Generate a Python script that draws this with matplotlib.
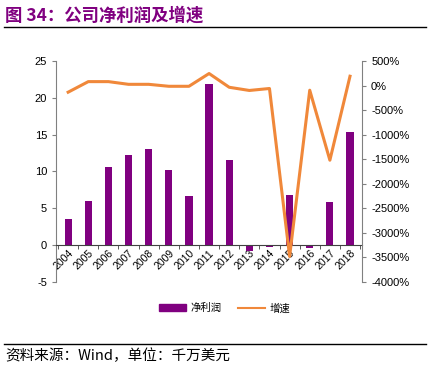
import numpy as np
import matplotlib.pyplot as plt
from matplotlib.lines import Line2D
from matplotlib.patches import Patch

plt.rcParams['font.family'] = ['Liberation Sans', 'Noto Sans CJK SC', 'DejaVu Sans']
plt.rcParams['axes.unicode_minus'] = False

# 数据
years = ['2004', '2005', '2006', '2007', '2008', '2009', '2010', '2011',
         '2012', '2013', '2014', '2015', '2016', '2017', '2018']
profit = [3.5, 6.0, 10.6, 12.2, 13.0, 10.2, 6.7, 21.9,
          11.6, -0.8, -0.2, 6.8, -0.4, 5.8, 15.3]
growth = [-135, 80, 80, 25, 25, -15, -15, 245,
          -35, -100, -60, -3480, -95, -1520, 190]

purple = '#800080'
orange = '#F0883A'
cjk = ['Noto Sans CJK SC', 'DejaVu Sans']

fig = plt.figure(figsize=(4.28, 3.67), dpi=100)
ax = fig.add_axes([0.131, 0.2316, 0.715, 0.6022])
x = np.arange(len(years))

ax.bar(x, profit, width=0.36, color=purple, zorder=2)
ax.set_ylim(-5, 25)
ax.set_yticks(np.arange(-5, 26, 5))
ax.set_xlim(-0.6, len(years) - 0.4)

for s in ['top', 'right']:
    ax.spines[s].set_visible(False)
ax.spines['left'].set_color('#808080')
ax.spines['bottom'].set_position(('data', 0))
ax.spines['bottom'].set_color('#404040')
ax.spines['bottom'].set_zorder(3)

ax.set_xticks(x)
ax.set_xticklabels(years, rotation=45, ha='right', va='top', fontsize=7.5,
                   rotation_mode='anchor')
ax.tick_params(axis='x', which='major', length=0, pad=2)
ax.set_xticks(np.arange(-0.5, len(years), 1), minor=True)
ax.tick_params(axis='x', which='minor', length=3, color='#404040')
ax.tick_params(axis='y', labelsize=8, length=3, color='#808080')

ax2 = ax.twinx()
ax2.plot(x, growth, color=orange, linewidth=2.2, zorder=4)
ax2.set_ylim(-4000, 500)
ax2.set_yticks(np.arange(-4000, 501, 500))
ax2.set_yticklabels([f'{v}%' for v in range(-4000, 501, 500)])
ax2.tick_params(axis='y', labelsize=8, length=3, color='#808080')
for s in ['top', 'left', 'bottom']:
    ax2.spines[s].set_visible(False)
ax2.spines['right'].set_color('#808080')

# 图例
handles = [Patch(color=purple), Line2D([0], [0], color=orange, lw=1.5)]
fig.legend(handles, ['净利润', '增速'], loc='center', bbox_to_anchor=(0.525, 0.16),
           ncol=2, frameon=False, prop={'family': cjk, 'size': 7.5},
           handlelength=2.6, handleheight=0.7, columnspacing=1.6, handletextpad=0.4)

# 标题和来源
fig.text(0.012, 0.958, '图 34：公司净利润及增速', color=purple, fontsize=12.5,
         fontweight='bold', family=cjk, va='center')
fig.add_artist(Line2D([0.01, 0.995], [0.926, 0.926], color='black', lw=1))
fig.add_artist(Line2D([0.01, 0.995], [0.063, 0.063], color='black', lw=1))
fig.text(0.012, 0.03, '资料来源：Wind，单位：千万美元', fontsize=10.5,
         family=['Noto Sans CJK SC', 'DejaVu Sans'], va='center')

fig.savefig('out.png', dpi=100)
